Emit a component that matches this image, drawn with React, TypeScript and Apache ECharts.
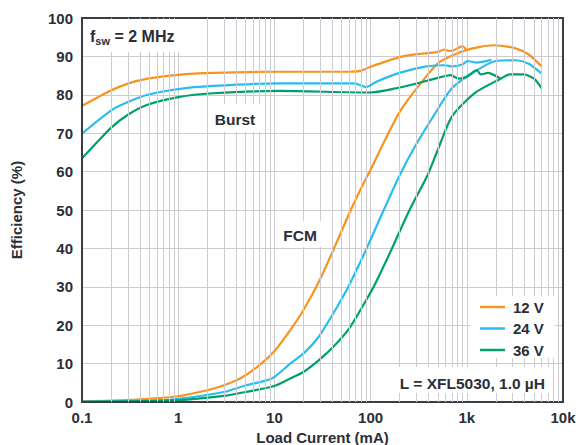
import React, { useEffect, useRef } from "react";
import * as echarts from "echarts";

// Load current (mA) and efficiency (%)
const fcm12X = [0.1, 0.2, 0.4, 1, 2, 3, 4.4, 7, 10.2, 14.6, 20, 29, 41, 59, 78, 100, 126, 200, 330, 520, 1000, 1900, 3200, 4400, 6000];
const fcm12Y = [0.2, 0.35, 0.7, 1.5, 3.05, 4.35, 6.1, 9.6, 13.5, 18.7, 23.9, 31.3, 39.6, 48.7, 55.2, 60.5, 65.7, 75.5, 82.9, 88.5, 91.7, 92.9, 92.1, 90.5, 87.4];
const burst12X = [0.1, 0.2, 0.3, 0.48, 1, 2.3, 11, 60, 80, 100, 200, 300, 490, 580, 650, 720, 900, 980];
const burst12Y = [77.1, 81.1, 82.9, 84.2, 85.2, 85.7, 86, 86, 86.3, 87.3, 89.8, 90.6, 91.1, 91.8, 91.4, 91.5, 92.7, 91.8];

const fcm24X = [0.1, 0.5, 1, 3, 5.1, 9.4, 14.6, 20, 28.5, 41, 60, 91, 137, 200, 290, 470, 700, 1200, 2000, 3200, 4400, 6000];
const fcm24Y = [0.1, 0.3, 0.8, 2.6, 4.35, 6.1, 10, 12.6, 16.8, 23.1, 30.5, 40, 50, 59, 66.6, 75.2, 81.7, 86, 88.8, 89, 88.1, 85.5];
const burst24X = [0.1, 0.2, 0.3, 0.48, 1, 2.3, 11, 68, 90, 115, 200, 380, 600, 700, 900, 1020, 1250, 1800];
const burst24Y = [69.9, 75.9, 78.1, 80, 81.5, 82.3, 83, 83, 82, 83.4, 85.7, 87.4, 87.7, 87.4, 87.9, 88.8, 88.4, 89.1];

const fcm36X = [0.1, 1, 3, 5, 9.8, 14.6, 20, 29, 41, 60, 82, 110, 160, 254, 393, 500, 700, 1200, 2250, 2800, 3900, 5000, 6000];
const fcm36Y = [0.05, 0.5, 1.6, 2.6, 4.1, 6.1, 7.8, 10.9, 14.4, 19.2, 24.8, 30.5, 39, 50, 59.2, 65.7, 74.3, 80.4, 84.2, 85.3, 85.3, 84.2, 81.7];
const burst36X = [0.1, 0.137, 0.2, 0.3, 0.48, 1, 2.3, 11, 100, 200, 330, 470, 680, 830, 1000, 1270, 1400, 1650, 2250];
const burst36Y = [63.5, 67.1, 71.4, 74.8, 77.4, 79.4, 80.4, 81, 80.6, 81.9, 83.2, 84.2, 85.1, 84.2, 84.7, 86.4, 85.3, 85.7, 84.2];

const seriesNames = ["12 V", "24 V", "36 V"];
const seriesColors = ["#F7931E", "#29BDEF", "#00A06E"];
const decades = [0.1, 1, 10, 100, 1000];
const minorMultipliers = [2, 3, 4, 5, 6, 7, 8, 9];

const TEXT = "#2B2E36";
const FONT = "'Liberation Sans', Arial, sans-serif";

export default function App() {
  const ref = useRef<HTMLDivElement>(null);
  useEffect(() => {
    document.body.style.margin = "0";
    const chart = echarts.init(ref.current!, null, { renderer: "svg" });
    const mk = (name: string, color: string, xs: number[], ys: number[]) => ({
      type: "line",
      name,
      data: xs.map((x, i) => [x, ys[i]]),
      symbol: "none",
      smooth: 0.25,
      lineStyle: { color, width: 2.2 },
      itemStyle: { color },
      z: 3,
      silent: true,
    });
    const minorValues: number[] = [];
    decades.forEach((d) => minorMultipliers.forEach((m) => minorValues.push(Number((d * m).toPrecision(3)))));

    const box = (x: number, y: number, w: number, h: number) => ({
      type: "rect",
      shape: { x, y, width: w, height: h },
      style: { fill: "#FFFFFF" },
      z: 10,
      silent: true,
    });
    const label = (text: string, x: number, y: number, align: string, size: number) => ({
      type: "text",
      x,
      y,
      z: 11,
      silent: true,
      style: {
        text,
        align,
        verticalAlign: "middle",
        font: "bold " + size + "px " + FONT,
        fill: TEXT,
      },
    });

    chart.setOption({
      animation: false,
      textStyle: { fontFamily: FONT },
      grid: {
        left: 82,
        right: 16,
        top: 18,
        bottom: 43,
        show: true,
        borderColor: "#3A3D45",
        borderWidth: 2,
        z: 4,
        containLabel: false,
        outerBoundsMode: "none",
      },
      xAxis: {
        type: "log",
        logBase: 10,
        min: 0.1,
        max: 10000,
        name: "Load Current (mA)",
        nameLocation: "middle",
        nameGap: 27,
        nameTextStyle: { color: TEXT, fontSize: 15, fontWeight: "bold", fontFamily: FONT },
        axisLine: { show: true, lineStyle: { color: "#3A3D45", width: 2 } },
        axisTick: { show: false },
        axisLabel: {
          color: TEXT,
          fontSize: 15,
          fontWeight: "bold",
          margin: 8,
          formatter: (v: number) => {
            const n = Number(v.toPrecision(3));
            return n >= 1000 ? n / 1000 + "k" : String(n);
          },
        },
        splitLine: { show: true, lineStyle: { color: "#CBCBD0", width: 1 } },
      },
      yAxis: {
        type: "value",
        min: 0,
        max: 100,
        interval: 10,
        name: "Efficiency (%)",
        nameLocation: "middle",
        nameGap: 58,
        nameTextStyle: { color: TEXT, fontSize: 15, fontWeight: "bold", fontFamily: FONT },
        axisLine: { show: true, lineStyle: { color: "#3A3D45", width: 2 } },
        axisTick: { show: false },
        axisLabel: { color: TEXT, fontSize: 15, fontWeight: "bold", margin: 9 },
        splitLine: { show: true, lineStyle: { color: "#CBCBD0", width: 1 } },
      },
      legend: {
        data: seriesNames.map((n) => ({ name: n, icon: "rect" })),
        orient: "vertical",
        left: 480,
        top: 299,
        padding: 0,
        itemWidth: 25,
        itemHeight: 2.5,
        itemGap: 5.5,
        textStyle: { color: TEXT, fontSize: 15, fontWeight: "bold", fontFamily: FONT, lineHeight: 16, padding: [0, 0, 0, 3] },
        selectedMode: false,
        z: 12,
      },
      graphic: [
        box(83, 19, 103, 33),
        box(211, 104, 50, 28),
        box(276, 221, 48, 26),
        box(470, 296, 85, 62),
        box(390, 367, 163, 26),
        {
          type: "text",
          x: 90,
          y: 36,
          z: 11,
          silent: true,
          style: {
            text: "{a|f}{b|sw}{a| = 2 MHz}",
            verticalAlign: "middle",
            rich: {
              a: { fontSize: 16, fontWeight: "bold", fill: TEXT, fontFamily: FONT, lineHeight: 20 },
              b: { fontSize: 11, fontWeight: "bold", fill: TEXT, fontFamily: FONT, verticalAlign: "bottom", lineHeight: 12 },
            },
          },
        },
        label("Burst", 235, 119, "center", 15.5),
        label("FCM", 300, 235, "center", 15.5),
        label("L = XFL5030, 1.0 µH", 545, 383, "right", 15.5),
      ],
      series: [
        {
          type: "line",
          name: "_minorGrid",
          data: [],
          z: 1,
          silent: true,
          markLine: {
            silent: true,
            symbol: ["none", "none"],
            label: { show: false },
            lineStyle: { color: "#CBCBD0", type: "solid", width: 1 },
            data: minorValues.map((v) => ({ xAxis: v })),
          },
        },
        mk(seriesNames[0], seriesColors[0], fcm12X, fcm12Y),
        mk(seriesNames[0], seriesColors[0], burst12X, burst12Y),
        mk(seriesNames[1], seriesColors[1], fcm24X, fcm24Y),
        mk(seriesNames[1], seriesColors[1], burst24X, burst24Y),
        mk(seriesNames[2], seriesColors[2], fcm36X, fcm36Y),
        mk(seriesNames[2], seriesColors[2], burst36X, burst36Y),
      ],
    });
    return () => chart.dispose();
  }, []);
  return <div ref={ref} style={{ width: 579, height: 445 }} />;
}
